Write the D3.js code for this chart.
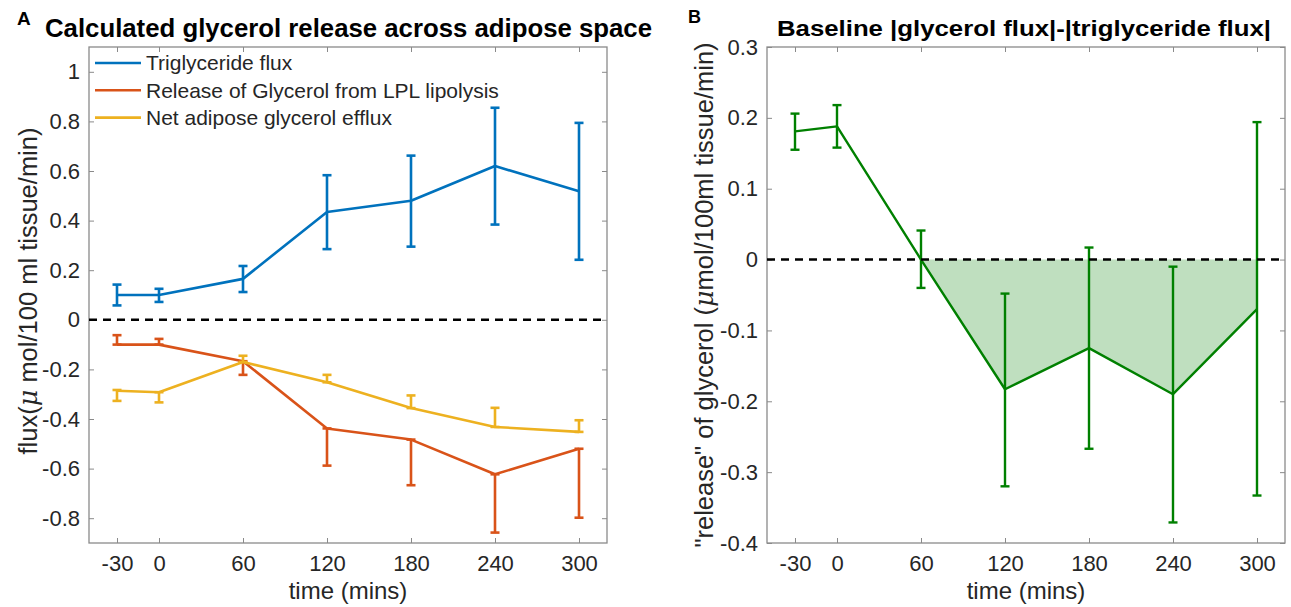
<!DOCTYPE html>
<html>
<head>
<meta charset="utf-8">
<script src="https://cdn.jsdelivr.net/npm/d3@7"></script>
<style>
  html, body { margin: 0; padding: 0; background: #fff; }
  svg { display: block; font-family: "Liberation Sans", Arial, Helvetica, sans-serif; }
</style>
</head>
<body>
<svg id="chart" width="1291" height="607"></svg>
<script>
// ---------- Data ----------
const times = [-30, 0, 60, 120, 180, 240, 300];
const xTickValues = [-30, 0, 60, 120, 180, 240, 300];

// Panel A series
const tgFlux   = [0.100, 0.100, 0.165, 0.435, 0.480, 0.620, 0.518];
const tgLower  = [0.058, 0.072, 0.112, 0.285, 0.295, 0.384, 0.242];
const tgUpper  = [0.142, 0.125, 0.217, 0.583, 0.662, 0.855, 0.794];

const lplRelease = [-0.100, -0.100, -0.167, -0.438, -0.483, -0.623, -0.520];
const lplLower   = [-0.100, -0.100, -0.222, -0.588, -0.667, -0.858, -0.798];
const lplUpper   = [-0.062, -0.077, -0.167, -0.438, -0.483, -0.623, -0.520];

const netEfflux = [-0.286, -0.292, -0.170, -0.252, -0.356, -0.432, -0.452];
const netLower  = [-0.327, -0.333, -0.170, -0.252, -0.356, -0.432, -0.452];
const netUpper  = [-0.283, -0.292, -0.145, -0.222, -0.305, -0.355, -0.405];

const legendLabels = ["Triglyceride flux", "Release of Glycerol from LPL lipolysis", "Net adipose glycerol efflux"];
const yTicksA = [-0.8, -0.6, -0.4, -0.2, 0, 0.2, 0.4, 0.6, 0.8, 1];

// Panel B series
const baseDiff  = [0.181, 0.188, 0.000, -0.183, -0.125, -0.190, -0.070];
const diffLower = [0.155, 0.158, -0.040, -0.320, -0.267, -0.371, -0.333];
const diffUpper = [0.206, 0.218, 0.041, -0.048, 0.017, -0.010, 0.194];
const yTicksB = [-0.4, -0.3, -0.2, -0.1, 0, 0.1, 0.2, 0.3];

// ---------- Styles ----------
const C_BLUE = "#0072BD", C_RED = "#D95319", C_YEL = "#EDB120", C_GRN = "#008000";
const TXT = "#262626", BOXC = "#8a8a8a";
const TICK_FS = 22;

const svg = d3.select("#chart");

function makePanel(opts) {
  const { left, right, top, bottom, yDomain, yTicks } = opts;
  const x = d3.scaleLinear().domain([-50, 320]).range([left, right]);
  const y = d3.scaleLinear().domain(yDomain).range([bottom, top]);
  const g = svg.append("g");
  const fmt = d => String(d);

  const styleAxis = sel => {
    sel.select(".domain").remove();
    sel.selectAll(".tick line").attr("stroke", BOXC).attr("stroke-width", 1);
    sel.selectAll(".tick text").attr("fill", TXT).style("font-size", TICK_FS + "px")
      .style("font-family", '"Liberation Sans", Arial, sans-serif');
  };
  g.append("g").attr("transform", `translate(0,${bottom})`)
    .call(d3.axisBottom(x).tickValues(xTickValues).tickSize(-5).tickPadding(12).tickFormat(fmt))
    .call(styleAxis);
  g.append("g").attr("transform", `translate(0,${top})`)
    .call(d3.axisTop(x).tickValues(xTickValues).tickSize(-5).tickFormat(""))
    .call(styleAxis);
  g.append("g").attr("transform", `translate(${left},0)`)
    .call(d3.axisLeft(y).tickValues(yTicks).tickSize(-5).tickPadding(9).tickFormat(fmt))
    .call(styleAxis);
  g.append("g").attr("transform", `translate(${right},0)`)
    .call(d3.axisRight(y).tickValues(yTicks).tickSize(-5).tickFormat(""))
    .call(styleAxis);

  g.append("rect").attr("x", left).attr("y", top)
    .attr("width", right - left).attr("height", bottom - top)
    .attr("fill", "none").attr("stroke", BOXC).attr("stroke-width", 1.3);
  return { x, y, g };
}

function drawSeries(p, vals, lo, hi, color, lw) {
  const line = d3.line().x((d, i) => p.x(times[i])).y(d => p.y(d));
  p.g.append("path").datum(vals).attr("d", line)
    .attr("fill", "none").attr("stroke", color).attr("stroke-width", lw)
    .attr("stroke-linejoin", "round");
  const eb = p.g.append("g").attr("stroke", color).attr("stroke-width", lw);
  const cap = 4.5;
  times.forEach((t, i) => {
    const cx = p.x(t);
    eb.append("line").attr("x1", cx).attr("x2", cx).attr("y1", p.y(lo[i])).attr("y2", p.y(hi[i]));
    eb.append("line").attr("x1", cx - cap).attr("x2", cx + cap).attr("y1", p.y(lo[i])).attr("y2", p.y(lo[i]));
    eb.append("line").attr("x1", cx - cap).attr("x2", cx + cap).attr("y1", p.y(hi[i])).attr("y2", p.y(hi[i]));
  });
}

function zeroLine(p, left, right) {
  p.g.append("line").attr("x1", left).attr("x2", right)
    .attr("y1", p.y(0)).attr("y2", p.y(0))
    .attr("stroke", "#000").attr("stroke-width", 2.5).attr("stroke-dasharray", "8,6");
}

// ---------- Panel A ----------
const A = { left: 89, right: 607, top: 47, bottom: 543 };
const pA = makePanel({ ...A, yDomain: [-0.9, 1.1], yTicks: yTicksA });
zeroLine(pA, A.left, A.right);
drawSeries(pA, tgFlux, tgLower, tgUpper, C_BLUE, 2.6);
drawSeries(pA, lplRelease, lplLower, lplUpper, C_RED, 2.6);
drawSeries(pA, netEfflux, netLower, netUpper, C_YEL, 2.6);

// legend
const legColors = [C_BLUE, C_RED, C_YEL];
legendLabels.forEach((lab, i) => {
  const ly = 63 + i * 27.3;
  svg.append("line").attr("x1", 95).attr("x2", 141).attr("y1", ly).attr("y2", ly)
    .attr("stroke", legColors[i]).attr("stroke-width", 2.6);
  svg.append("text").attr("x", 146).attr("y", ly).attr("dy", "0.35em")
    .attr("fill", TXT).style("font-size", "21px").text(lab);
});

// titles and labels A
svg.append("text").attr("x", 17).attr("y", 25).style("font-size", "19px")
  .style("font-weight", "bold").attr("fill", "#000").text("A");
svg.append("text").attr("x", 348.5).attr("y", 37).attr("text-anchor", "middle")
  .attr("textLength", 607).attr("lengthAdjust", "spacingAndGlyphs")
  .style("font-size", "25px").style("font-weight", "bold").attr("fill", "#000")
  .text("Calculated glycerol release across adipose space");
svg.append("text").attr("x", 348).attr("y", 599).attr("text-anchor", "middle")
  .style("font-size", "24px").attr("fill", TXT).text("time (mins)");
const ylA = svg.append("text").attr("transform", "translate(37,291) rotate(-90)")
  .attr("text-anchor", "middle").style("font-size", "25.5px").attr("fill", TXT);
ylA.append("tspan").text("flux(");
ylA.append("tspan").style("font-style", "italic").style("font-family", '"DejaVu Serif", "Liberation Serif", serif').text("μ");
ylA.append("tspan").text(" mol/100 ml tissue/min)");

// ---------- Panel B ----------
const B = { left: 767, right: 1285, top: 47, bottom: 543 };
const pB = makePanel({ ...B, yDomain: [-0.4, 0.3], yTicks: yTicksB });

// shaded area between curve and zero from t=60 onward
const fillIdx = times.map((t, i) => i).filter(i => times[i] >= 60);
const area = d3.area().x(i => pB.x(times[i])).y0(pB.y(0)).y1(i => pB.y(baseDiff[i]));
pB.g.append("path").datum(fillIdx).attr("d", area)
  .attr("fill", C_GRN).attr("fill-opacity", 0.25).attr("stroke", "none");
drawSeries(pB, baseDiff, diffLower, diffUpper, C_GRN, 2.4);
zeroLine(pB, B.left, B.right);

svg.append("text").attr("x", 688).attr("y", 23).style("font-size", "18px")
  .style("font-weight", "bold").attr("fill", "#000").text("B");
svg.append("text").attr("x", 1024).attr("y", 36).attr("text-anchor", "middle")
  .attr("textLength", 494).attr("lengthAdjust", "spacingAndGlyphs")
  .style("font-size", "22px").style("font-weight", "bold").attr("fill", "#000")
  .text("Baseline |glycerol flux|-|triglyceride flux|");
svg.append("text").attr("x", 1026).attr("y", 599).attr("text-anchor", "middle")
  .style("font-size", "24px").attr("fill", TXT).text("time (mins)");
const ylB = svg.append("text").attr("transform", "translate(713,295) rotate(-90)")
  .attr("text-anchor", "middle").style("font-size", "25.5px").attr("fill", TXT);
ylB.append("tspan").text("\"release\" of glycerol (");
ylB.append("tspan").style("font-style", "italic").style("font-family", '"DejaVu Serif", "Liberation Serif", serif').text("μ");
ylB.append("tspan").text("mol/100ml tissue/min)");
</script>
</body>
</html>
